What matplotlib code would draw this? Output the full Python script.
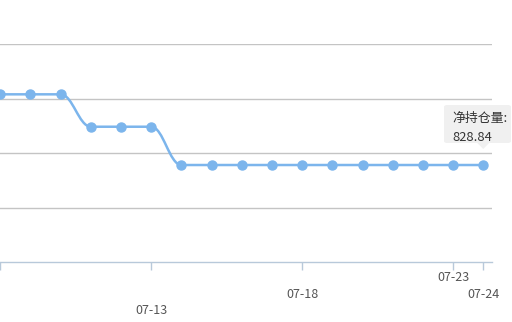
import matplotlib
matplotlib.use("Agg")
import matplotlib.pyplot as plt
from matplotlib.path import Path
from matplotlib.patches import PathPatch, FancyBboxPatch, Polygon

plt.rcParams['font.family'] = ['Noto Sans CJK SC', 'DejaVu Sans']

dates = ["07-08", "07-09", "07-10", "07-11", "07-12", "07-13", "07-14", "07-15",
         "07-16", "07-17", "07-18", "07-19", "07-20", "07-21", "07-22", "07-23", "07-24"]
values = [1431, 1431, 1431, 1155, 1155, 1155, 828.84, 828.84, 828.84, 828.84,
          828.84, 828.84, 828.84, 828.84, 828.84, 828.84, 828.84]
shown_ticks = ["07-08", "07-13", "07-18", "07-23", "07-24"]
tick_label_rows = {"07-08": None, "07-13": 2, "07-18": 1, "07-23": 0, "07-24": 1}
tooltip_label = "净持仓量:"
grid_step = 464.3

W, H = 512, 322
fig = plt.figure(figsize=(W / 100, H / 100), dpi=100)
ax = fig.add_axes([0, (H - 262.3) / H, 492 / W, (262.3 - 44.3) / H])

color = "#7cb5ec"
xs = list(range(len(dates)))

# smooth line via cubic bezier segments
verts = [(xs[0], values[0])]
codes = [Path.MOVETO]
s = 0.4
for i in range(len(xs) - 1):
    x0, y0, x1, y1 = xs[i], values[i], xs[i + 1], values[i + 1]
    dx = x1 - x0
    verts += [(x0 + dx * s, y0), (x1 - dx * s, y1), (x1, y1)]
    codes += [Path.CURVE4] * 3
ax.add_patch(PathPatch(Path(verts, codes), facecolor="none", edgecolor=color, lw=1.8, zorder=3))
ax.plot(xs, values, linestyle="none", marker="o", markersize=6.5, color=color, zorder=4)

ax.set_xlim(-0.01, 16.29)
ax.set_ylim(0, grid_step * 4)
ax.set_yticks([grid_step * k for k in range(1, 5)])
ax.yaxis.grid(True, color="#c4c4c4", lw=1)
ax.tick_params(axis="y", length=0, labelleft=False)
for sp in ["top", "right", "left"]:
    ax.spines[sp].set_visible(False)
ax.spines["bottom"].set_color("#b8c9da")
ax.spines["bottom"].set_linewidth(1)

tick_pos = [dates.index(d) for d in shown_ticks]
ax.set_xticks(tick_pos)
ax.set_xticklabels([])
ax.tick_params(axis="x", length=6, width=1, color="#b8c9da", direction="out")

row_y = [277.5, 294.5, 310.5]
for d in shown_ticks:
    r = tick_label_rows[d]
    if r is None:
        continue
    xpix = ax.transData.transform((dates.index(d), 0))[0]
    fig.text(xpix / W, 1 - row_y[r] / H, d, ha="center", va="center",
             fontsize=9, color="#555555")

# tooltip
lx, ly = ax.transData.transform((xs[-1], values[-1]))
bx0, by0, bx1, by1 = 444, 105, 511, 143
box = FancyBboxPatch((bx0 / W, 1 - by1 / H), (bx1 - bx0) / W, (by1 - by0) / H,
                     boxstyle="round,pad=0,rounding_size=0.006", transform=fig.transFigure,
                     facecolor="#f0f0f0", edgecolor="none", zorder=10)
fig.patches.append(box)
tri = Polygon([((lx - 6) / W, 1 - by1 / H), ((lx + 6) / W, 1 - by1 / H), (lx / W, 1 - 149 / H)],
              closed=True, transform=fig.transFigure, facecolor="#f0f0f0", edgecolor="none", zorder=10)
fig.patches.append(tri)
fig.text(452 / W, 1 - 118 / H, tooltip_label, ha="left", va="center", fontsize=9.3, color="#333333", zorder=11)
fig.text(452 / W, 1 - 137 / H, f"{values[-1]:.2f}", ha="left", va="center", fontsize=9.3, color="#333333", zorder=11)

fig.savefig("out.png", dpi=100)
